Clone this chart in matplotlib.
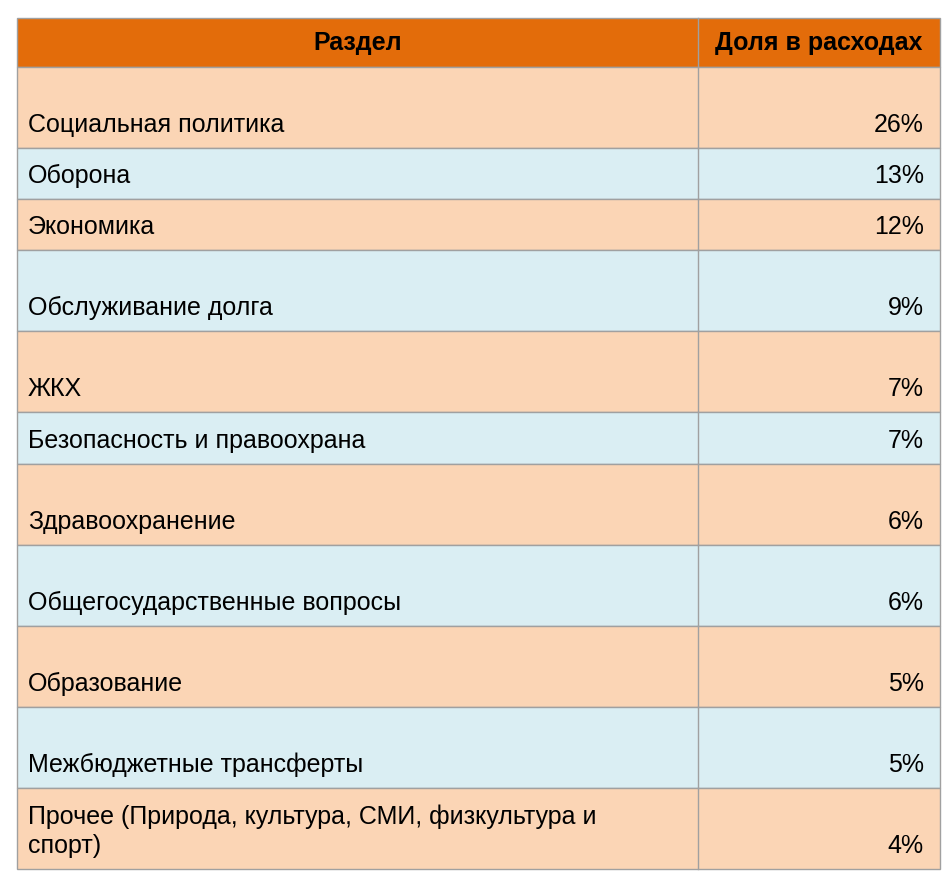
import matplotlib.pyplot as plt
from matplotlib.patches import Rectangle

plt.rcParams['font.family'] = ['Liberation Sans', 'DejaVu Sans']

# данные таблицы
razdely = ['Социальная политика', 'Оборона', 'Экономика', 'Обслуживание долга', 'ЖКХ',
           'Безопасность и правоохрана', 'Здравоохранение', 'Общегосударственные вопросы',
           'Образование', 'Межбюджетные трансферты',
           'Прочее (Природа, культура, СМИ, физкультура и\nспорт)']
doli = [26, 13, 12, 9, 7, 7, 6, 6, 5, 5, 4]
vysoty = [81, 51, 51, 81, 81, 52, 81, 81, 81, 81, 81]  # высота строк, px

fig = plt.figure(figsize=(9.5, 8.93), dpi=100)
ax = fig.add_axes([0, 0, 1, 1])
ax.set_xlim(0, 950)
ax.set_ylim(893, 0)
ax.axis('off')

x0, x1, x2 = 17, 698, 940
linia = '#a0a0a0'
fs = 18

# шапка
y = 18
ax.add_patch(Rectangle((x0, y), x2 - x0, 49, facecolor='#E36C0A', edgecolor=linia, lw=1))
ax.plot([x1, x1], [y, y + 49], color=linia, lw=1)
ax.text(358, y + 25, 'Раздел', ha='center', va='center', fontsize=fs, fontweight='bold')
ax.text(922, y + 25, 'Доля в расходах', ha='right', va='center', fontsize=fs, fontweight='bold')
y += 49

for i, (r, d, h) in enumerate(zip(razdely, doli, vysoty)):
    cvet = '#FBD5B5' if i % 2 == 0 else '#DAEEF3'
    ax.add_patch(Rectangle((x0, y), x2 - x0, h, facecolor=cvet, edgecolor=linia, lw=1))
    ax.plot([x1, x1], [y, y + h], color=linia, lw=1)
    ax.text(28, y + h - 16, r, ha='left', va='baseline', fontsize=fs, linespacing=1.25)
    ax.text(924, y + h - 16, f'{d}%', ha='right', va='baseline', fontsize=fs)
    y += h

fig.savefig('out.png', dpi=100, facecolor='white')
